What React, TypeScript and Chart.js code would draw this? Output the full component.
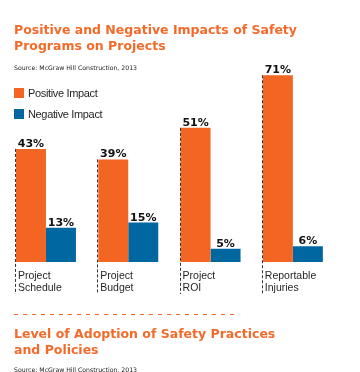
import React, { useEffect, useRef } from "react";
import { Chart, registerables } from "chart.js";

Chart.register(...registerables);

const categories: string[][] = [
  ["Project", "Schedule"],
  ["Project", "Budget"],
  ["Project", "ROI"],
  ["Reportable", "Injuries"],
];
const positiveImpact: number[] = [43, 39, 51, 71];
const negativeImpact: number[] = [13, 15, 5, 6];
const seriesNames: string[] = ["Positive Impact", "Negative Impact"];

const ORANGE = "#F26522";
const BLUE = "#0067A0";
const TITLE_ORANGE = "#F26B2A";

const labelPlugin = {
  id: "customLabels",
  afterDatasetsDraw(chart: any) {
    const ctx = chart.ctx as CanvasRenderingContext2D;
    ctx.save();
    const meta0 = chart.getDatasetMeta(0);
    meta0.data.forEach((bar: any, i: number) => {
      const left = bar.x - bar.width / 2;
      const lx = Math.round(left) - 0.5;
      ctx.beginPath();
      ctx.setLineDash([3, 2]);
      ctx.strokeStyle = "#333333";
      ctx.lineWidth = 1;
      ctx.moveTo(lx, bar.y);
      ctx.lineTo(lx, 294);
      ctx.stroke();
      ctx.setLineDash([]);
      ctx.fillStyle = "#231F20";
      ctx.font = "10.5px 'Liberation Sans', Arial, sans-serif";
      ctx.textAlign = "left";
      ctx.textBaseline = "alphabetic";
      const lines = categories[i];
      lines.forEach((t, k) => {
        ctx.fillText(t, left + 2, 279 + k * 12);
      });
    });
    chart.data.datasets.forEach((ds: any, di: number) => {
      const meta = chart.getDatasetMeta(di);
      meta.data.forEach((bar: any, i: number) => {
        ctx.fillStyle = "#111111";
        ctx.font = "bold 11px 'DejaVu Sans', sans-serif";
        ctx.textAlign = "center";
        ctx.textBaseline = "alphabetic";
        ctx.fillText(ds.data[i] + "%", bar.x, bar.y - 2);
      });
    });
    ctx.beginPath();
    ctx.setLineDash([4, 5]);
    ctx.strokeStyle = ORANGE;
    ctx.lineWidth = 1;
    ctx.moveTo(14, 314.5);
    ctx.lineTo(238, 314.5);
    ctx.stroke();
    ctx.restore();
  },
};

export default function App() {
  const canvasRef = useRef<HTMLCanvasElement | null>(null);

  useEffect(() => {
    if (!canvasRef.current) return;
    const chart = new Chart(canvasRef.current, {
      type: "bar",
      data: {
        labels: categories.map((c) => c.join(" ")),
        datasets: [
          {
            label: seriesNames[0],
            data: positiveImpact,
            backgroundColor: ORANGE,
            borderWidth: 0,
            barPercentage: 1,
            categoryPercentage: 0.729,
          },
          {
            label: seriesNames[1],
            data: negativeImpact,
            backgroundColor: BLUE,
            borderWidth: 0,
            barPercentage: 1,
            categoryPercentage: 0.729,
          },
        ],
      },
      options: {
        responsive: false,
        maintainAspectRatio: false,
        animation: false,
        layout: { padding: { left: 4.8, right: 26, top: 51.6, bottom: 110 } },
        plugins: {
          legend: { display: false },
          tooltip: { enabled: false },
          title: { display: false },
        },
        scales: {
          x: { display: false, offset: true },
          y: { display: false, min: 0, max: 80 },
        },
      },
      plugins: [labelPlugin],
    });
    return () => chart.destroy();
  }, []);

  const titleStyle: React.CSSProperties = {
    position: "absolute",
    left: 14,
    margin: 0,
    font: "bold 12.5px 'DejaVu Sans', sans-serif",
    lineHeight: "15.5px",
    color: TITLE_ORANGE,
    whiteSpace: "nowrap",
  };
  const sourceStyle: React.CSSProperties = {
    position: "absolute",
    left: 14,
    font: "6.2px 'DejaVu Sans', sans-serif",
    lineHeight: "7px",
    color: "#222222",
    whiteSpace: "nowrap",
  };
  const legendText: React.CSSProperties = {
    position: "absolute",
    left: 28,
    font: "11px 'Liberation Sans', Arial, sans-serif",
    lineHeight: "12px",
    letterSpacing: "-0.35px",
    color: "#231F20",
    whiteSpace: "nowrap",
  };
  const box = (top: number, color: string): React.CSSProperties => ({
    position: "absolute",
    left: 14,
    top,
    width: 10,
    height: 10,
    background: color,
  });

  return (
    <div
      style={{
        position: "fixed",
        left: 0,
        top: 0,
        width: 360,
        height: 372,
        overflow: "hidden",
        background: "#ffffff",
      }}
    >
      <canvas
        ref={canvasRef}
        width={360}
        height={372}
        style={{ position: "absolute", left: 0, top: 0, display: "block" }}
      />
      <div style={{ ...titleStyle, top: 22.4 }}>
        Positive and Negative Impacts of Safety
        <br />
        Programs on Projects
      </div>
      <div style={{ ...sourceStyle, top: 64.4 }}>Source: McGraw Hill Construction, 2013</div>
      <div style={box(88, ORANGE)} />
      <div style={{ ...legendText, top: 87.2 }}>{seriesNames[0]}</div>
      <div style={box(109, BLUE)} />
      <div style={{ ...legendText, top: 108.2 }}>{seriesNames[1]}</div>
      <div style={{ ...titleStyle, top: 326.2 }}>
        Level of Adoption of Safety Practices
        <br />
        and Policies
      </div>
      <div style={{ ...sourceStyle, top: 366.4 }}>Source: McGraw Hill Construction, 2013</div>
    </div>
  );
}
